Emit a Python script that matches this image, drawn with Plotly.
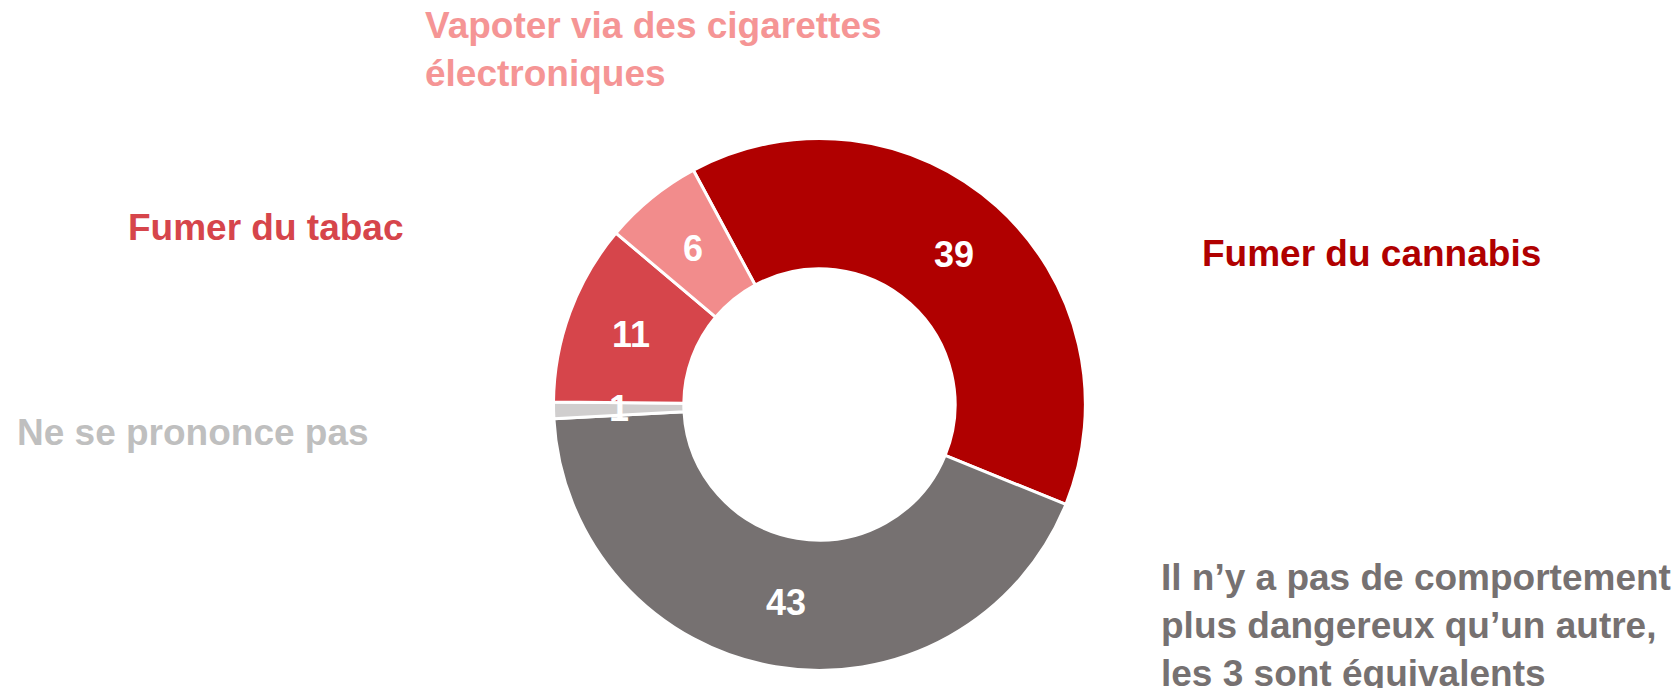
import math
import plotly.graph_objects as go

# Data (clockwise from the top-right slice)
categories = ["Fumer du cannabis",
              "Il n’y a pas de comportement<br>plus dangereux qu’un autre,<br>les 3 sont équivalents",
              "Ne se prononce pas",
              "Fumer du tabac",
              "Vapoter via des cigarettes<br>électroniques"]
values = [39, 43, 1, 11, 6]
slice_colors = ["#B00000", "#767171", "#D0CECE", "#D6454B", "#F28C8C"]
label_colors = ["#B00000", "#767171", "#BFBFBF", "#D6454B", "#F59595"]

# where each outside label sits (paper coords, left-anchored)
label_pos = [(0.7095, 0.643), (0.685, 0.102), (0.004, 0.383), (0.070, 0.681), (0.247, 0.940)]

FONT = "Liberation Sans, Arial, sans-serif"
W, H = 1680, 688
ROT = -28.3
HOLE = 0.51
dom_x = [0.3247, 0.6413]
dom_y = [0.0372, 0.8104]

fig = go.Figure()

fig.add_trace(go.Pie(
    labels=categories,
    values=values,
    sort=False,
    direction="clockwise",
    rotation=ROT,
    hole=HOLE,
    marker=dict(colors=slice_colors, line=dict(color="white", width=3)),
    textinfo="none",
    domain=dict(x=dom_x, y=dom_y),
    showlegend=False,
    hoverinfo="label+value",
))

# values written at the middle of each slice's arc (same as the source, even for the thin one)
cx, cy = sum(dom_x) / 2, sum(dom_y) / 2
R = (dom_y[1] - dom_y[0]) * H / 2
r_mid = R * (1 + HOLE) / 2
total = sum(values)
cum = 0
for v in values:
    ang = math.radians(ROT + (cum + v / 2) / total * 360)
    fig.add_annotation(
        text=str(v), x=cx + r_mid * math.sin(ang) / W, y=cy + r_mid * math.cos(ang) / H,
        xref="paper", yref="paper", xanchor="center", yanchor="middle", showarrow=False,
        font=dict(family=FONT, size=36, color="white", weight="bold"),
    )
    cum += v

for lab, col, (px, py) in zip(categories, label_colors, label_pos):
    fig.add_annotation(
        text=lab, x=px, y=py, xref="paper", yref="paper",
        xanchor="left", yanchor="middle", align="left", showarrow=False,
        font=dict(family=FONT, size=37, color=col, weight="bold"),
    )

fig.update_layout(
    width=W, height=H,
    margin=dict(l=0, r=0, t=0, b=0),
    paper_bgcolor="white",
    plot_bgcolor="white",
)

fig.write_html("out.html")
